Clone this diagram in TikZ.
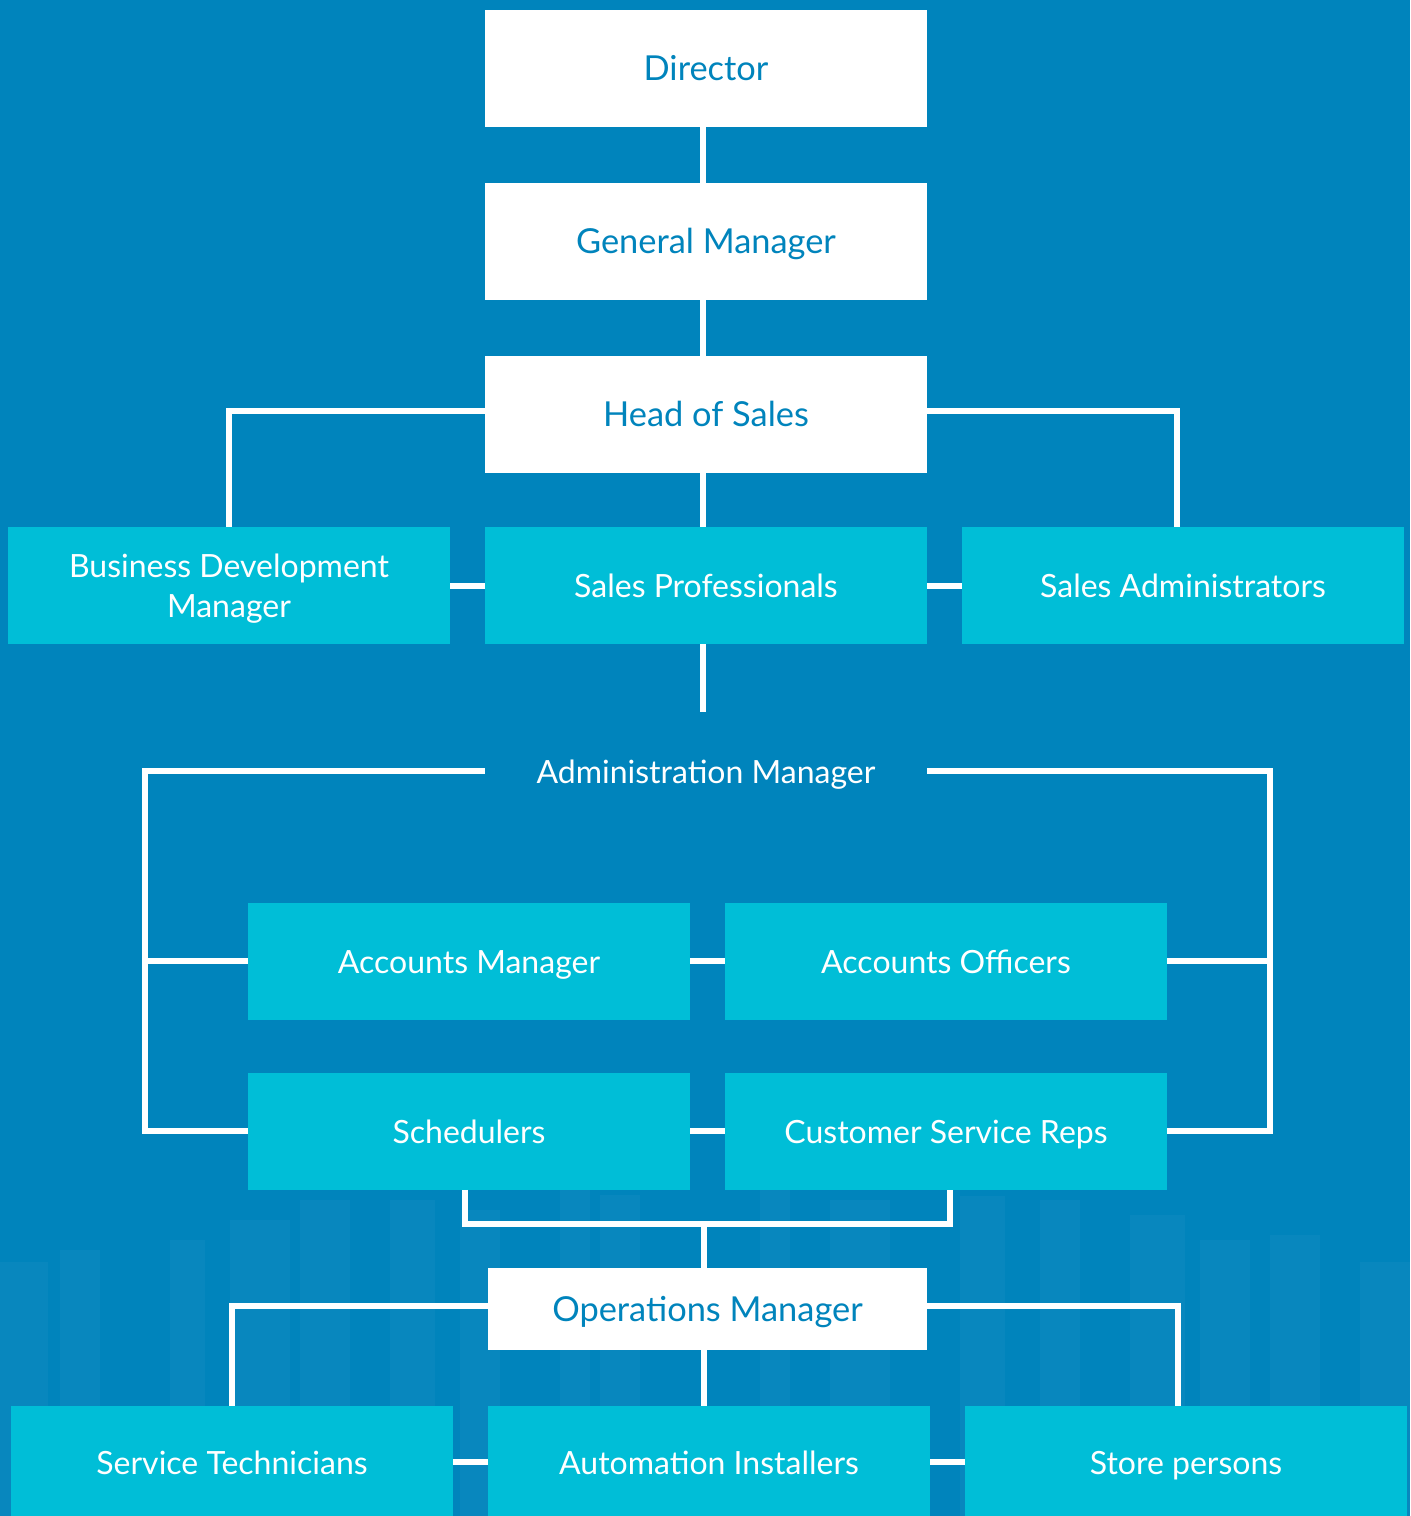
\documentclass[tikz,border=0pt]{standalone}
\usepackage{fontspec}
\setmainfont{Lato}
\usepackage{tikz}
\definecolor{bgblue}{RGB}{0,132,188}
\definecolor{boxcyan}{RGB}{0,190,215}
\tikzset{
  topbox/.style={fill=white,text=bgblue,minimum width=221pt,minimum height=58.5pt,inner sep=0pt,text height=15.8pt,text depth=3.4pt,font=\fontsize{17.2}{20.5}\selectfont},
  staffbox/.style={fill=boxcyan,text=white,minimum width=221pt,minimum height=58.5pt,inner sep=0pt,align=center,text height=15.5pt,text depth=3.2pt,font=\fontsize{16}{19}\selectfont},
  ghostbox/.style={text=white,minimum width=221pt,minimum height=59pt,inner sep=0pt,text height=15.5pt,text depth=3.2pt,font=\fontsize{16}{19.5}\selectfont},
  link/.style={white,line width=3pt}
}

\begin{document}
\begin{tikzpicture}[x=0.5pt,y=-0.5pt]
    \fill[bgblue] (0,0) rectangle (1410,1516);
    \useasboundingbox (0,0) rectangle (1410,1516);
    \foreach \bx/\btop/\bw in {0/1262/48,60/1250/40,170/1240/35,230/1220/60,300/1200/50,390/1200/45,460/1210/40,560/1190/30,600/1195/40,760/1190/30,830/1200/60,960/1196/45,1040/1200/40,1130/1215/55,1200/1240/50,1270/1235/50,1360/1262/50}
      \fill[white,opacity=0.03] (\bx,\btop) rectangle ++(\bw,1516-\btop);

    \node[topbox] (dir) at (706,68.5) {Director};
    \node[topbox] (gm) at (706,241.5) {General Manager};
    \node[topbox] (hos) at (706,414.5) {Head of Sales};
    \node[staffbox,text height=,text depth=] (bdm) at (229,585.5) {\rule{0pt}{15pt}Business Development\\[1pt]Manager};
    \node[staffbox] (sp) at (706,585.5) {Sales Professionals};
    \node[staffbox] (sa) at (1183,585.5) {Sales Administrators};
    \node[ghostbox] (adm) at (706,771) {Administration Manager};
    \node[staffbox] (am) at (469,961) {Accounts Manager};
    \node[staffbox] (ao) at (946,961) {Accounts Officers};
    \node[staffbox] (sch) at (469,1131) {Schedulers};
    \node[staffbox] (csr) at (946,1131) {Customer Service Reps};
    \node[topbox,minimum width=219.5pt,minimum height=41pt] (ops) at (707.5,1309) {Operations Manager};
    \node[staffbox,minimum height=56pt] (st) at (232,1462) {Service Technicians};
    \node[staffbox,minimum height=56pt] (ai) at (709,1462) {Automation Installers};
    \node[staffbox,minimum height=56pt] (stp) at (1186,1462) {Store persons};

    \coordinate (lbar) at (145,771);
    \coordinate (rbar) at (1270,771);
    \coordinate (opsbus) at (704,1224);

    \draw[link] ([xshift=-1.5pt]dir.south) -- ([xshift=-1.5pt]gm.north);
    \draw[link] ([xshift=-1.5pt]gm.south) -- ([xshift=-1.5pt]hos.north);
    \draw[link] ([xshift=-1.5pt]hos.south) -- ([xshift=-1.5pt]sp.north);
    \draw[link] ([yshift=2pt]hos.west) -| (bdm.north);
    \draw[link] ([yshift=2pt]hos.east) -| ([xshift=-3pt]sa.north);
    \draw[link] (bdm) -- (sp);
    \draw[link] (sp) -- (sa);
    \draw[link] ([xshift=-1.5pt]sp.south) -- ([xshift=-1.5pt]adm.north);
    \draw[link] (adm.west) -- (lbar) |- (sch.west);
    \draw[link] (lbar |- am.west) -- (am.west);
    \draw[link] (adm.east) -- (rbar) |- (csr.east);
    \draw[link] (rbar |- ao.east) -- (ao.east);
    \draw[link] (am) -- (ao);
    \draw[link] (sch) -- (csr);
    \draw[link] ([xshift=-2pt]sch.south) |- (opsbus) -| ([xshift=2pt]csr.south);
    \draw[link] (opsbus) -- (opsbus |- ops.north);
    \draw[link] ([yshift=1.5pt]ops.west) -| (st.north);
    \draw[link] ([yshift=1.5pt]ops.east) -| ([xshift=-4pt]stp.north);
    \draw[link] (opsbus |- ops.south) -- (opsbus |- ai.north);
    \draw[link] (st) -- (ai);
    \draw[link] (ai) -- (stp);
\end{tikzpicture}
\end{document}
